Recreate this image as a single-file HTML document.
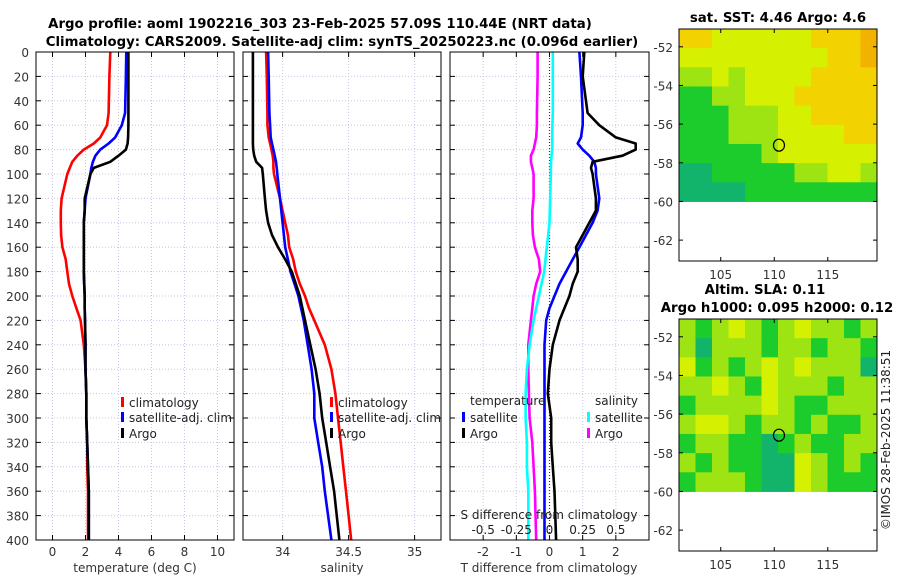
<!DOCTYPE html>
<html><head><meta charset="utf-8">
<style>
html,body{margin:0;padding:0;background:#fff;}
svg{display:block;font-family:"DejaVu Sans","Liberation Sans",sans-serif;}
</style></head>
<body>
<svg id="fig" width="900" height="580" viewBox="0 0 900 580" xmlns="http://www.w3.org/2000/svg">
<text x="320" y="28" text-anchor="middle" font-size="13.3" font-weight="bold">Argo profile: aoml 1902216_303 23-Feb-2025 57.09S 110.44E (NRT data)</text>
<text x="342" y="46" text-anchor="middle" font-size="13.3" font-weight="bold">Climatology: CARS2009. Satellite-adj clim: synTS_20250223.nc (0.096d earlier)</text>
<text x="778" y="22" text-anchor="middle" font-size="13.3" font-weight="bold">sat. SST: 4.46 Argo: 4.6</text>
<text x="765" y="294" text-anchor="middle" font-size="13.3" font-weight="bold">Altim. SLA: 0.11</text>
<text x="777" y="312" text-anchor="middle" font-size="13.3" font-weight="bold">Argo h1000: 0.095 h2000: 0.12</text>
<text transform="translate(890,440) rotate(-90)" text-anchor="middle" font-size="12" fill="#222">©IMOS 28-Feb-2025 11:38:51</text>
<g id="g"></g>
</svg>
<script>
// ---- data ----
const depths = [0,20,50,60,70,75,80,85,90,95,100,120,130,140,150,160,170,180,190,200,210,220,240,260,280,300,320,340,360,400];
const tempArgo = [4.6,4.6,4.6,4.6,4.58,4.55,4.45,4.0,3.5,2.5,2.3,1.95,1.95,1.9,1.9,1.9,1.9,1.9,1.92,1.95,1.95,1.97,2.0,2.0,2.05,2.05,2.1,2.15,2.2,2.2];
const tempSat = [4.47,4.45,4.4,4.2,3.8,3.4,2.9,2.6,2.45,2.35,2.3,2.0,1.95,1.9,1.9,1.9,1.9,1.9,1.92,1.95,1.95,1.97,2.0,2.0,2.05,2.05,2.1,2.15,2.2,2.2];
const tempClim = [3.5,3.45,3.4,3.3,2.9,2.5,1.9,1.5,1.2,1.05,0.9,0.55,0.5,0.5,0.52,0.6,0.8,0.9,1.0,1.2,1.45,1.7,1.9,2.0,2.05,2.05,2.1,2.1,2.15,2.15];
const salArgo = [33.775,33.775,33.775,33.775,33.775,33.775,33.777,33.785,33.8,33.845,33.85,33.866,33.875,33.89,33.92,33.965,34.02,34.07,34.1,34.13,34.15,34.17,34.21,34.25,34.28,34.3,34.33,34.36,34.39,34.43];
const salSat = [33.89,33.895,33.9,33.905,33.91,33.92,33.93,33.94,33.95,33.955,33.96,33.98,33.99,34.0,34.01,34.02,34.04,34.06,34.09,34.12,34.14,34.16,34.19,34.22,34.24,34.24,34.27,34.3,34.32,34.37];
const salClim = [33.875,33.88,33.885,33.885,33.895,33.905,33.915,33.925,33.93,33.93,33.935,33.98,34.0,34.02,34.04,34.05,34.08,34.1,34.13,34.17,34.2,34.24,34.32,34.37,34.4,34.42,34.44,34.46,34.48,34.52];
const tdiffArgo = [1.05,1.0,1.15,1.5,2.0,2.6,2.6,2.2,1.3,1.25,1.3,1.4,1.4,1.2,1.0,0.8,0.85,0.85,0.7,0.6,0.45,0.3,0.1,0.0,-0.05,0.05,0.05,0.1,0.15,0.2];
const tdiffSat = [0.9,0.95,1.0,1.0,0.95,0.85,1.0,1.2,1.35,1.4,1.4,1.5,1.45,1.3,1.1,0.9,0.7,0.5,0.3,0.15,0.0,-0.1,-0.15,-0.15,-0.15,-0.15,-0.15,-0.15,-0.15,-0.15];
const sdiffSat = [0.025,0.025,0.025,0.022,0.02,0.02,0.02,0.015,0.012,0.01,0.01,0.005,0.002,0.0,-0.01,-0.02,-0.03,-0.04,-0.06,-0.08,-0.1,-0.12,-0.15,-0.17,-0.18,-0.18,-0.17,-0.17,-0.16,-0.16];
const sdiffArgo = [-0.09,-0.09,-0.095,-0.095,-0.1,-0.11,-0.12,-0.14,-0.14,-0.13,-0.12,-0.12,-0.13,-0.13,-0.125,-0.11,-0.08,-0.07,-0.1,-0.12,-0.13,-0.14,-0.16,-0.16,-0.155,-0.15,-0.13,-0.12,-0.11,-0.1];
const depthTicks = [0,20,40,60,80,100,120,140,160,180,200,220,240,260,280,300,320,340,360,380,400];
const tempTicks = [0,2,4,6,8,10];
const salTicks = [34,34.5,35];
const salTickLabels = ["34","34.5","35"];
const tdTicks = [-2,-1,0,1,2];
const sdTicks = [-0.5,-0.25,0,0.25,0.5];
const sdTickLabels = ["-0.5","-0.25","0","0.25","0.5"];
const latTicks = [-52,-54,-56,-58,-60,-62];
const lonTicks = [105,110,115];
// map cells: 9 rows (lat -51..-60), 12 cols (lon 101..119.6), colour index 0..5
const sstGrid = [
[4,4,3,3,3,3,3,3,4,4,4,5],
[3,3,3,3,3,3,3,3,3,4,4,5],
[2,2,3,2,3,3,3,3,4,4,4,4],
[1,1,2,2,3,3,3,4,4,4,4,4],
[1,1,1,2,2,2,3,3,4,4,4,4],
[1,1,1,2,2,2,3,3,3,3,4,4],
[1,1,1,1,1,2,3,3,3,3,3,3],
[0,0,1,1,1,1,1,2,2,3,3,2],
[0,0,0,0,1,1,1,1,1,1,1,1]];
const slaGrid = [
[2,1,2,3,2,1,2,3,2,2,1,2],
[2,0,2,2,2,1,2,2,1,2,2,1],
[3,1,2,1,2,3,2,3,2,2,2,0],
[2,2,3,2,1,3,2,2,2,1,2,2],
[1,2,2,2,2,3,2,1,1,2,2,2],
[2,3,3,2,1,2,2,1,2,1,1,2],
[1,2,2,1,1,0,1,2,1,1,2,2],
[2,1,2,1,1,0,0,3,2,1,2,1],
[1,2,2,2,1,0,0,3,2,1,1,1]];
const floatLon = 110.44, floatLat = -57.09;

// ---- drawing ----
const NS="http://www.w3.org/2000/svg";
const G=document.getElementById('g');
function el(tag,attrs,parent){const e=document.createElementNS(NS,tag);for(const k in attrs)e.setAttribute(k,attrs[k]);(parent||G).appendChild(e);return e;}
function txt(s,attrs,parent){const t=el('text',attrs,parent);t.textContent=s;return t;}
const yTop=52,yBot=540;
const yD=d=>yTop+d*(yBot-yTop)/400;
function panel(name,x0,x1,xmin,xmax){return {name,x0,x1,sx:v=>x0+(v-xmin)*(x1-x0)/(xmax-xmin)};}
const P1=panel('temperature-panel',36,234,-1,11);
const P2=panel('salinity-panel',243,441,33.7,35.2);
const P3=panel('difference-panel',450,649,-3,3);
const sdx=v=>P3.x0+(v+0.75)*(P3.x1-P3.x0)/1.5;

function frame(P,xticks,xlabels,xfn){
  const g=el('g',{});
  
  
  xticks.forEach(v=>{const x=xfn(v);
    const l=el('line',{x1:x,x2:x,y1:yTop,y2:yBot,stroke:'#c6c6e6','stroke-dasharray':'1,2','stroke-width':1},g);
    
    
  });
  depthTicks.forEach(d=>{const y=yD(d);
    const l=el('line',{x1:P.x0,x2:P.x1,y1:y,y2:y,stroke:'#c6c6e6','stroke-dasharray':'1,2','stroke-width':1},g);
    
    
    el('line',{x1:P.x0,x2:P.x0+5,y1:y,y2:y,stroke:'#000'},g);
    el('line',{x1:P.x1-5,x2:P.x1,y1:y,y2:y,stroke:'#000'},g);
  });
  xticks.forEach((v,i)=>{const x=xfn(v);
    el('line',{x1:x,x2:x,y1:yBot,y2:yBot-5,stroke:'#000'},g);
    el('line',{x1:x,x2:x,y1:yTop,y2:yTop+5,stroke:'#000'},g);
    const t=txt(xlabels[i],{x:x,y:556,'text-anchor':'middle','font-size':12,fill:'#333'},g);
    
    
  });
  return g;
}
function line(xfn,vals,color,name,parent){
  const pts=vals.map((v,i)=>xfn(v).toFixed(1)+','+yD(depths[i]).toFixed(1)).join(' ');
  const pl=el('polyline',{points:pts,fill:'none',stroke:color,'stroke-width':2.6,'stroke-linejoin':'round'},parent);
  
  
}
function border(P,g){el('rect',{x:P.x0,y:yTop,width:P.x1-P.x0,height:yBot-yTop,fill:'none',stroke:'#000','stroke-width':1},g);}

// panel 1
const g1=frame(P1,tempTicks,tempTicks.map(String),P1.sx);
line(P1.sx,tempClim,'#f00','clim-temperature-line',g1);
line(P1.sx,tempSat,'#00f','satellite-temperature-line',g1);
line(P1.sx,tempArgo,'#000','argo-temperature-line',g1);
border(P1,g1);
depthTicks.forEach(d=>{const t=txt(String(d),{x:29,y:yD(d)+5,'text-anchor':'end','font-size':12,fill:'#333'});
  
  });
const a1=txt('temperature (deg C)',{x:135,y:572,'text-anchor':'middle','font-size':12,fill:'#333'});



// panel 2
const g2=frame(P2,salTicks,salTickLabels,P2.sx);
line(P2.sx,salClim,'#f00','clim-salinity-line',g2);
line(P2.sx,salSat,'#00f','satellite-salinity-line',g2);
line(P2.sx,salArgo,'#000','argo-salinity-line',g2);
border(P2,g2);
const a2=txt('salinity',{x:342,y:572,'text-anchor':'middle','font-size':12,fill:'#333'});



// panel 3
const g3=frame(P3,tdTicks,tdTicks.map(String),P3.sx);
const zl=el('line',{x1:P3.sx(0),x2:P3.sx(0),y1:yTop,y2:yBot,stroke:'#333','stroke-dasharray':'1,2','stroke-width':1.2},g3);


line(sdx,sdiffArgo,'#f0f','argo-salinity-diff-line',g3);
line(sdx,sdiffSat,'#0ff','satellite-salinity-diff-line',g3);
line(P3.sx,tdiffSat,'#00f','satellite-temperature-diff-line',g3);
line(P3.sx,tdiffArgo,'#000','argo-temperature-diff-line',g3);
border(P3,g3);
const a3=txt('T difference from climatology',{x:549,y:572,'text-anchor':'middle','font-size':12,fill:'#333'});


const a4=txt('S difference from climatology',{x:549,y:519,'text-anchor':'middle','font-size':12,fill:'#222'});


sdTicks.forEach((v,i)=>{const t=txt(sdTickLabels[i],{x:sdx(v),y:534,'text-anchor':'middle','font-size':12,fill:'#222'});
  
  });

// legends
function legend(x,y,color,label,name){
  const g=el('g',{});
  
  
  el('rect',{x:x,y:y-10,width:3,height:10,fill:color},g);
  txt(label,{x:x+8,y:y,'font-size':12,fill:'#222'},g);
}
legend(121,407,'#f00','climatology','legend-climatology');
legend(121,422,'#00f','satellite-adj. clim','legend-satellite-adj');
legend(121,438,'#000','Argo','legend-argo');
legend(330,407,'#f00','climatology','legend2-climatology');
legend(330,422,'#00f','satellite-adj. clim','legend2-satellite-adj');
legend(330,438,'#000','Argo','legend2-argo');
const lt=txt('temperature',{x:470,y:405,'font-size':12,fill:'#222'});


const ls=txt('salinity',{x:595,y:405,'font-size':12,fill:'#222'});


legend(462,422,'#00f','satellite','legend-temp-satellite');
legend(462,438,'#000','Argo','legend-temp-argo');
legend(587,422,'#0ff','satellite','legend-sal-satellite');
legend(587,438,'#f0f','Argo','legend-sal-argo');

// maps
const palette=['#12b46c','#1ccc2c','#9ee412','#d6f002','#f2d200','#f2b200'];
function map(name,y0,grid){
  const x0=679,x1=877,h=232;
  const lx=v=>x0+(v-101.1)*(x1-x0)/(119.6-101.1);
  const ly=v=>y0+(-51.08-v)*h/12;
  const g=el('g',{});
  
  
  const dLat=8.92/9, dLon=(119.6-101.1)/12;
  grid.forEach((row,r)=>row.forEach((c,ci)=>{
    const la=-51.08-r*dLat, lo=101.1+ci*dLon;
    const xa=lx(lo),xb=lx(lo+dLon),ya=ly(la),yb=ly(la-dLat);
    const cell=el('rect',{x:xa,y:ya,width:xb-xa+0.5,height:yb-ya+0.5,fill:palette[c]},g);
    
    
  }));
  el('rect',{x:x0,y:y0,width:x1-x0,height:h,fill:'none',stroke:'#000'},g);
  latTicks.forEach(v=>{const y=ly(v);
    el('line',{x1:x0,x2:x0+4,y1:y,y2:y,stroke:'#000'},g);
    el('line',{x1:x1-4,x2:x1,y1:y,y2:y,stroke:'#000'},g);
    const t=txt(String(v),{x:x0-6,y:y+5,'text-anchor':'end','font-size':12,fill:'#333'},g);
    
    });
  lonTicks.forEach(v=>{const x=lx(v);
    el('line',{x1:x,x2:x,y1:y0+h,y2:y0+h-4,stroke:'#000'},g);
    el('line',{x1:x,x2:x,y1:y0,y2:y0+4,stroke:'#000'},g);
    const t=txt(String(v),{x:x,y:y0+h+18,'text-anchor':'middle','font-size':12,fill:'#333'},g);
    
    });
  const c=el('ellipse',{cx:lx(floatLon),cy:ly(floatLat),rx:5.5,ry:6,fill:'none',stroke:'#000','stroke-width':1.2},g);
  
  
}
map('sst-map',29,sstGrid);
map('sla-map',319,slaGrid);
</script>
</body></html>
